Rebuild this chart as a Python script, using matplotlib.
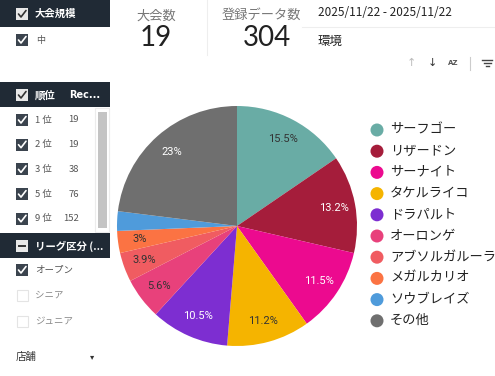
import numpy as np
import matplotlib.pyplot as plt
from matplotlib.patches import Rectangle, Circle

plt.rcParams['font.family'] = ['Noto Sans CJK JP', 'DejaVu Sans']

# pie data (counts out of 304)
names = ['サーフゴー', 'リザードン', 'サーナイト', 'タケルライコ', 'ドラパルト',
         'オーロンゲ', 'アブソルガルーラ', 'メガルカリオ', 'ソウブレイズ', 'その他']
counts = [47, 40, 35, 34, 32, 17, 12, 9, 8, 70]
colors = ['#69aca5', '#a51d3b', '#ec0a8f', '#f5b400', '#7d2ed1',
          '#e8417b', '#f05c61', '#fb7343', '#4f9bdb', '#6f6f6f']
label_dark = [True, False, False, True, False, True, True, True, True, False]

# sidebar filters
rank_labels = ['1 位', '2 位', '3 位', '5 位', '9 位']
rank_counts = [19, 19, 38, 76, 152]
league_labels = ['オープン', 'シニア', 'ジュニア']
league_checked = [True, False, False]

W, H = 495, 376
fig = plt.figure(figsize=(W / 100, H / 100), dpi=100)
fig.patch.set_facecolor('white')

ui = fig.add_axes([0, 0, 1, 1])
ui.set_xlim(0, W)
ui.set_ylim(H, 0)
ui.axis('off')

dark = '#202a35'


def checkbox(x, y, state, header=False):
    s = 12
    if state == 'on':
        fc = '#e8e8e8' if header else '#3b444e'
        ui.add_patch(Rectangle((x, y - s / 2), s, s, fc=fc, ec='none'))
        ck = '#333333' if header else 'white'
        ui.plot([x + 2.5, x + 5, x + 10], [y, y + 3, y - 3.5], color=ck, lw=1.2,
                solid_capstyle='round')
    elif state == 'mixed':
        ui.add_patch(Rectangle((x, y - s / 2), s, s, fc='#e8e8e8', ec='none'))
        ui.plot([x + 3, x + 9], [y, y], color='#333333', lw=1.4)
    else:
        ui.add_patch(Rectangle((x + 0.5, y - s / 2 + 0.5), s - 1, s - 1, fc='white',
                               ec='#e4e4e4', lw=0.8))


# header bars
ui.add_patch(Rectangle((0, 0), 110, 27, fc=dark, ec='none'))
checkbox(16, 14, 'on', header=True)
ui.text(35, 14, '大会規模', color='white', fontsize=7.5, fontweight='bold', va='center')
checkbox(16, 40, 'on')
ui.text(36, 40, '中', color='#555555', fontsize=6.5, va='center')

ui.add_patch(Rectangle((0, 82), 110, 25, fc=dark, ec='none'))
checkbox(16, 95, 'on', header=True)
ui.text(35, 95, '順位', color='white', fontsize=7.5, fontweight='bold', va='center')
ui.text(69, 95, 'Rec...', color='white', fontsize=7, fontweight='bold', va='center',
        family='DejaVu Sans')
for i, (lab, c) in enumerate(zip(rank_labels, rank_counts)):
    y = 120 + i * 24.7
    checkbox(16, y, 'on')
    ui.text(35, y, lab, color='#555555', fontsize=6.8, va='center')
    ui.text(79, y, str(c), color='#555555', fontsize=6.8, va='center', ha='right')

# scrollbar
ui.add_patch(Rectangle((95, 108), 14, 124, fc='white', ec='#ececec', lw=0.8))
ui.add_patch(Rectangle((98, 112), 9, 116, fc='#c4c4c4', ec='none'))

ui.add_patch(Rectangle((0, 233), 110, 25, fc=dark, ec='none'))
checkbox(16, 246, 'mixed')
ui.text(35, 246, 'リーグ区分 (...', color='white', fontsize=7.5, fontweight='bold',
        va='center')
for i, (lab, on) in enumerate(zip(league_labels, league_checked)):
    y = 270 + i * 25.5
    checkbox(16, y, 'on' if on else 'off')
    ui.text(35, y, lab, color='#555555' if on else '#888888', fontsize=6.8,
            va='center')

ui.text(16, 357, '店舗', color='#333333', fontsize=7.5, va='center')
ui.text(92, 357, '▾', color='#333333', fontsize=6, va='center', ha='center',
        family='DejaVu Sans')

# KPI cards
ui.plot([207, 207], [0, 55], color='#eeeeee', lw=0.8)
ui.text(156, 16, '大会数', color='#777777', fontsize=9.5, ha='center', va='center')
ui.text(156, 38, '19', color='#222222', fontsize=20, ha='center', va='center',
        family=['Lato', 'DejaVu Sans'])
ui.text(261, 15, '登録データ数', color='#777777', fontsize=9.5, ha='center',
        va='center')
ui.text(267, 38, '304', color='#222222', fontsize=20, ha='center', va='center',
        family=['Lato', 'DejaVu Sans'])

ui.plot([302, W], [27, 27], color='#eeeeee', lw=0.8)
ui.text(318, 13, '2025/11/22 - 2025/11/22', color='#222222', fontsize=8.5,
        va='center')
ui.text(318, 41, '環境', color='#222222', fontsize=9, va='center')

# sort icons
ui.text(411, 63, '↑', color='#bbbbbb', fontsize=8, ha='center', va='center',
        family='DejaVu Sans')
ui.text(432, 63, '↓', color='#333333', fontsize=8, ha='center', va='center',
        family='DejaVu Sans')
ui.text(453, 63, 'AZ', color='#555555', fontsize=5, ha='center', va='center',
        family='DejaVu Sans', fontweight='bold')
ui.plot([470, 470], [57, 70], color='#cccccc', lw=0.8)
for dy, hw in zip([-3, 0, 3], [5, 3.5, 1.5]):
    ui.plot([487 - hw, 487 + hw], [63 + dy, 63 + dy], color='#444444', lw=1)

# legend
for i, (n, c) in enumerate(zip(names, colors)):
    y = 130 + i * 21.2
    ui.add_patch(Circle((377, y), 6.5, fc=c, ec='none'))
    ui.text(390, y, n, color='#222222', fontsize=9.5, va='center')

# pie
r_px = 120
cx, cy = 237, 226
pax = fig.add_axes([(cx - r_px) / W, (H - cy - r_px) / H, 2 * r_px / W, 2 * r_px / H])


def fmt(p):
    if p < 2.8:
        return ''
    v = round(p, 1)
    return f'{v:g}%'


wedges, texts, autotexts = pax.pie(counts, colors=colors, startangle=90,
                                   counterclock=False, autopct=fmt,
                                   pctdistance=0.82,
                                   wedgeprops=dict(linewidth=0))
for t, d in zip(autotexts, label_dark):
    t.set_color('#333333' if d else 'white')
    t.set_fontsize(8)
    t.set_family(['Roboto', 'DejaVu Sans'])
pax.set_xlim(-1, 1)
pax.set_ylim(-1, 1)
pax.set_aspect('equal')

fig.savefig('out.png', dpi=100)
